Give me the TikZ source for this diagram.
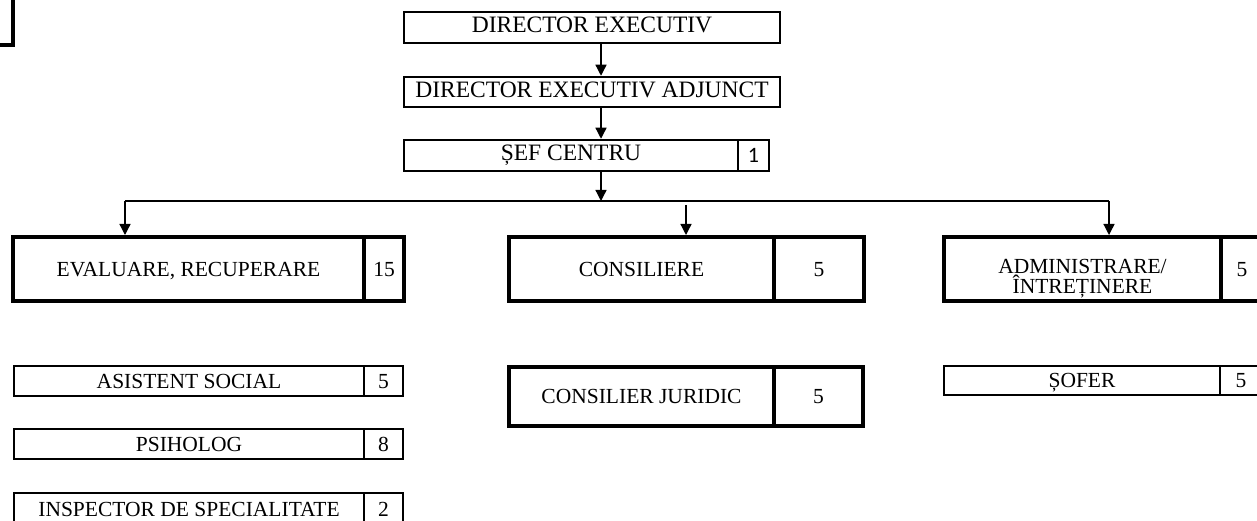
\documentclass[tikz,border=0pt]{standalone}
\usepackage{fontspec}
\setmainfont{Liberation Serif}
\newfontfamily\calibri{Carlito}
\usetikzlibrary{arrows.meta}

\begin{document}
\begin{tikzpicture}[x=1pt, y=-1pt,
  thinbox/.style={draw, rectangle, line width=2.5pt, inner sep=0pt, outer sep=0pt, anchor=north west, text height=14.2pt, text depth=0pt, font=\fontsize{21.5}{22}\selectfont},
  thickbox/.style={thinbox, line width=4pt},
  topbox/.style={thinbox, text height=15.5pt, text depth=5pt, font=\fontsize{23.5}{26}\selectfont},
  link/.style={line width=1.3pt, ->, >={Triangle[width=11pt,length=11pt]}}]
\useasboundingbox (0,0) rectangle (1257,521);
\draw[line width=4pt] (-20,-20) rectangle (13,45);
\node[topbox, minimum width=376pt, minimum height=31pt] (dir) at (404,12) {DIRECTOR EXECUTIV};
\node[topbox, minimum width=376pt, minimum height=30pt] (adj) at (404,77) {DIRECTOR EXECUTIV ADJUNCT};
\node[topbox, minimum width=334pt, minimum height=31pt] (sef) at (404,140) {ȘEF CENTRU};
\node[thinbox, minimum width=31pt, minimum height=31pt, text height=13.9pt, font=\calibri\fontsize{22}{26}\selectfont] (sefn) at (sef.north east) {1};
\node[thickbox, minimum width=351pt, minimum height=64pt] (eval) at (13,237) {EVALUARE, RECUPERARE};
\node[thickbox, minimum width=40pt, minimum height=64pt] (evaln) at (eval.north east) {15};
\node[thickbox, minimum width=265pt, minimum height=64pt] (cons) at (509,237) {CONSILIERE};
\node[thickbox, minimum width=90pt, minimum height=64pt] (consn) at (cons.north east) {5};
\node[thickbox, minimum width=277pt, minimum height=64pt] (adm) at (944,237) {};
\node[align=center, font=\fontsize{21.5}{20}\selectfont] (admtext) at ([yshift=-10pt]adm.center) {ADMINISTRARE/\\ÎNTREȚINERE};
\node[thickbox, minimum width=42pt, minimum height=64pt] (admn) at (adm.north east) {5};
\node[thinbox, minimum width=350pt, minimum height=30pt] (as) at (14,366) {ASISTENT SOCIAL};
\node[thinbox, minimum width=39pt, minimum height=30pt] (asn) at (as.north east) {5};
\node[thinbox, minimum width=350pt, minimum height=30pt] (psi) at (14,429) {PSIHOLOG};
\node[thinbox, minimum width=39pt, minimum height=30pt] (psin) at (psi.north east) {8};
\node[thinbox, minimum width=350pt, minimum height=32pt] (insp) at (14,493) {INSPECTOR DE SPECIALITATE};
\node[thinbox, minimum width=39pt, minimum height=32pt] (inspn) at (insp.north east) {2};
\node[thickbox, minimum width=265pt, minimum height=59pt] (jur) at (509,367) {CONSILIER JURIDIC};
\node[thickbox, minimum width=89pt, minimum height=59pt] (jurn) at (jur.north east) {5};
\node[thinbox, minimum width=276pt, minimum height=29pt] (sof) at (944,366) {ȘOFER};
\node[thinbox, minimum width=42pt, minimum height=29pt] (sofn) at (sof.north east) {5};
\coordinate (ax) at (601,0);
\coordinate (bl) at (125,201);
\coordinate (br) at (1109,201);
\coordinate (bm) at (686,205);
\draw[link, shorten >=1.25pt] (dir.south -| ax) -- (adj.north -| ax);
\draw[link, shorten >=1.25pt] (adj.south -| ax) -- (sef.north -| ax);
\draw[link] (sef.south -| ax) -- (bl -| ax);
\draw[line width=1.3pt] (bl) -- (br);
\draw[link, shorten >=2pt] (bl) -- (bl |- eval.north);
\draw[link, shorten >=2pt] (bm) -- (bm |- cons.north);
\draw[link, shorten >=2pt] (br) -- (br |- adm.north);
\end{tikzpicture}
\end{document}
